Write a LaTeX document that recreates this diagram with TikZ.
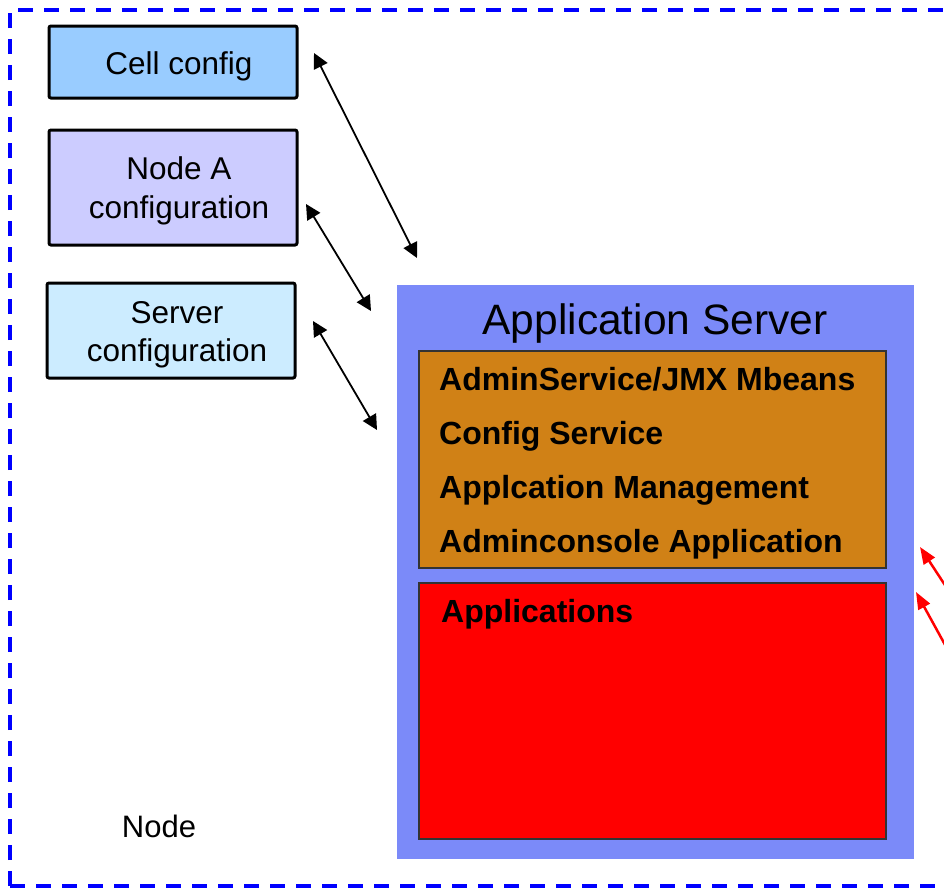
\documentclass[tikz,border=0pt]{standalone}
\usepackage{fontspec}
\setmainfont{Liberation Sans}
\usetikzlibrary{arrows.meta}
\definecolor{cellblue}{RGB}{153,204,255}
\definecolor{nodelilac}{RGB}{204,204,255}
\definecolor{servercyan}{RGB}{204,236,255}
\definecolor{appserver}{RGB}{123,138,249}
\definecolor{adminorange}{RGB}{208,129,22}
\begin{document}
\begin{tikzpicture}[x=1pt,y=-1pt]

    \tikzset{
      confbox/.style={
        draw=black,
        line width=3pt,
        rounded corners=2pt,
        inner sep=0pt,
        minimum width=248pt,
      },
      conftext/.style={
        inner sep=0pt,
        align=center,
        font=\fontsize{31.5}{38.5}\selectfont,
      },
      innerbox/.style={
        draw=black!80,
        line width=1.2pt,
        inner sep=0pt,
        minimum width=467pt,
      },
      service/.style={
        anchor=west,
        inner sep=0pt,
        text height=24pt,
        text depth=7pt,
        font=\fontsize{32}{38}\selectfont\bfseries,
      },
      link/.style={
        line width=1.8pt,
        {Triangle[length=15pt,width=15pt]}-{Triangle[length=15pt,width=15pt]},
      },
      hint/.style={
        red,
        line width=2.5pt,
        -{Triangle[length=17pt,width=13pt]},
      },
    }
    \useasboundingbox (0,0) rectangle (944,889);
    \clip (0,0) rectangle (944,889);
    % outer node frame
	\draw[blue,line width=4pt,dash pattern=on 15pt off 11pt] (10,886)--(10,10)--(970,10);
	\draw[blue,line width=4pt,dash pattern=on 15pt off 11pt] (10,886)--(970,886);
	\node[inner sep=0pt,font=\fontsize{31}{37}\selectfont] (nodelabel) at (159,826) {Node};

	% configuration repositories
	\node[confbox,fill=cellblue,minimum height=72pt] (cell) at (173,62) {};
	\node[confbox,fill=nodelilac,minimum height=115pt] (nodeconf) at (173,187.5) {};
	\node[confbox,fill=servercyan,minimum height=95pt] (serverconf) at (171,330.5) {};
	\node[conftext] (celltext) at ([xshift=6pt,yshift=-4pt]cell.center) {Cell config};
	\node[conftext] (nodetext) at ([xshift=6pt,yshift=-3.5pt]nodeconf.center) {Node A\\configuration};
	\node[conftext] (servertext) at ([xshift=6pt,yshift=-4.5pt]serverconf.center) {Server\\configuration};

	% application server
	\node[fill=appserver,inner sep=0pt,minimum width=517pt,minimum height=574pt] (appsrv) at (655.5,572) {};
	\node[inner sep=0pt,font=\fontsize{42.5}{50}\selectfont] (apptitle) at (655,324) {Application Server};
	\node[innerbox,fill=adminorange,minimum height=217pt] (admin) at (652.5,459.5) {};
	\node[innerbox,fill=red,minimum height=256pt] (apps) at (652.5,711) {};
	\node[service] (mbeans) at (439,382) {AdminService/JMX Mbeans};
	\node[service] (cfgsvc) at (439,436) {Config Service};
	\node[service] (appmgmt) at (439,490) {Applcation Management};
	\node[service] (console) at (439,544) {Adminconsole Application};
	\node[service] (applist) at (441,614) {Applications};

	% sync links
	\coordinate (c1) at (314,53);
	\coordinate (s1) at (417,258);
	\coordinate (c2) at (306,204);
	\coordinate (s2) at (371,311);
	\coordinate (c3) at (313,321);
	\coordinate (s3) at (377,430);
	\draw[link] (c1)--(s1);
	\draw[link] (c2)--(s2);
	\draw[link] (c3)--(s3);

	\coordinate (r1) at (960,608);
	\coordinate (h1) at (920,547);
	\coordinate (r2) at (960,672);
	\coordinate (h2) at (916,592);
	\draw[hint] (r1)--(h1);
	\draw[hint] (r2)--(h2);

\end{tikzpicture}
\end{document}
